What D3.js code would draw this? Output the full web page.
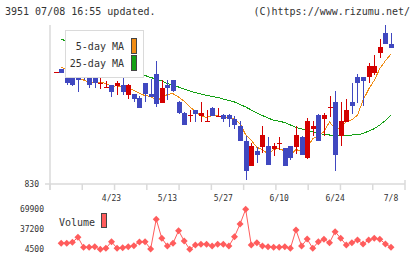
<!DOCTYPE html>
<html>
<head>
<meta charset="utf-8">
<script src="https://cdn.jsdelivr.net/npm/d3@7"></script>
<style>
  body { margin: 0; background: #fff; }
  text { font-family: "DejaVu Sans Mono", monospace; fill: #333; }
</style>
</head>
<body>
<div id="chart"></div>
<script>
// daily candles, oldest first (last day = 7/8)
const openP  = [942,945,942,938,938,940,938,937,930,926,929,928,929,919,920,916,931,920,940,911,929,934,912,901,898,904,898,893,906,898,899,899,895,888,873,848,863,867,868,865,870,866,868,867,877,856,885,899,895,906,912,878,892,912,937,937,937,941,961,981,970];
const highP  = [942,945,943,938,938,941,938,938,936,933,929,933,940,930,920,918,931,935,953,934,934,934,913,902,904,904,912,904,907,906,900,900,898,893,878,871,867,888,877,871,877,866,868,888,878,896,893,900,901,918,923,912,915,931,940,937,951,959,975,989,981];
const lowP   = [942,941,929,928,922,934,926,926,925,926,917,919,919,915,912,906,912,917,907,911,914,922,900,889,892,892,892,893,898,898,892,887,885,873,834,848,851,861,849,858,864,848,854,860,859,855,878,873,878,897,843,868,892,900,911,908,931,939,956,970,966];
const closeP = [942,941,931,929,934,937,929,931,931,927,922,931,922,929,915,906,920,917,910,926,926,923,901,889,899,900,901,893,898,898,895,895,889,873,843,868,859,879,849,868,871,848,856,879,859,893,888,873,899,907,859,893,904,908,931,933,948,948,967,970,966];

const ma5 = [null,947,944,939,935,934,931.5,931.5,932,930.6,927.7,928.2,926.5,926.2,923.8,920.7,918.4,917.5,913.6,915.9,919.7,920.3,916.9,912.7,907.3,902.3,898,896.6,898.4,898.3,897.2,896.1,895.3,890.3,879.2,873.8,866.6,864.5,859.7,864.7,865.3,863.1,858.5,864.5,862.7,867.1,875.1,878.4,882.4,892,885.2,886.2,892.4,894.2,898.9,913.8,924.8,933.6,945.5,953.3,959.9];
const ma25 = [null,974.7,973,970.5,968,965.3,963,960.5,957.8,955.4,953,950.3,948,945.4,943,940.7,938.5,936.5,935,933,930.5,928.5,927,925,923,921.3,920,918.7,917.5,916.5,915,913.5,912,909.5,907,904,901,898.5,896,893.7,892.7,891.5,889,886.5,885,883.5,882,880.7,879.7,879,879,879,879,879,879.3,880.5,883,885.3,889,893.5,899];

const volume = [null,14300,14300,15900,24100,7800,7800,8800,4500,6100,16900,6100,7100,8800,10400,16400,16900,5000,53600,22500,9900,14300,34900,18100,4500,11500,12700,12700,9900,12700,12700,9900,25100,45900,69900,11500,15300,9900,8800,7800,7800,8800,6100,36100,9900,21300,6100,16900,20900,15300,33300,22500,11500,15300,19700,13200,19700,22500,20900,13200,7800];

const dateIdx = [10, 20, 30, 40, 50, 60];
const dateLabels = ["4/23", "5/13", "5/27", "6/10", "6/24", "7/8"];
const priceTicks = [830];
const volTicks = [69900, 37200, 4500];

const upCol = "#d40000", downCol = "#4048c0";
const ma5Col = "#f08c14", ma25Col = "#14a014", volCol = "#ff5c5c";

const width = 420, height = 259;
const svg = d3.select("#chart").append("svg")
    .attr("width", width)
    .attr("height", height);

const x = d3.scaleLinear().domain([-1, 62.5]).range([50, 405]);
const y = d3.scaleLinear().domain([830, 989]).range([184, 25]);
const yv = d3.scaleLinear().domain([4500, 69900]).range([249.3, 209.3]);
const grid = d3.scaleLinear().domain([0, 11]).range([50, 405]);

// header
svg.append("text")
    .attr("x", 5).attr("y", 15)
    .attr("font-size", 10)
  .text("3951 07/08 16:55 updated.");
svg.append("text")
    .attr("x", 410).attr("y", 15)
    .attr("font-size", 10)
    .attr("text-anchor", "end")
  .text("(C)https://www.rizumu.net/");

// axes
const axis = svg.append("g")
    .attr("stroke", "#dadada")
    .attr("stroke-width", 1.5);
axis.append("line")
    .attr("x1", grid(0)).attr("x2", grid(0))
    .attr("y1", y(989)).attr("y2", y(830) + 6);
axis.append("line")
    .attr("x1", grid(0) - 5).attr("x2", grid(11))
    .attr("y1", y(830)).attr("y2", y(830));
axis.selectAll("line.tick")
  .data(d3.range(12))
  .join("line")
    .attr("class", "tick")
    .attr("x1", d => grid(d)).attr("x2", d => grid(d))
    .attr("y1", d => d == 11 ? y(830) - 4 : y(830))
    .attr("y2", y(830) + 6);

svg.selectAll("text.ptick")
  .data(priceTicks)
  .join("text")
    .attr("class", "ptick")
    .attr("x", 39).attr("y", d => y(d))
    .attr("dy", "0.35em")
    .attr("font-size", 8)
    .attr("text-anchor", "end")
  .text(d => d);

svg.selectAll("text.date")
  .data(dateIdx)
  .join("text")
    .attr("class", "date")
    .attr("x", d => x(d)).attr("y", 198)
    .attr("dy", "0.35em")
    .attr("font-size", 8)
    .attr("text-anchor", "middle")
  .text((d, i) => dateLabels[i]);

// moving averages
const maLine = d3.line()
    .defined(d => d != null)
    .x((d, i) => x(i))
    .y(d => y(d));

svg.append("path")
    .attr("d", maLine(ma25))
    .attr("fill", "none")
    .attr("stroke", ma25Col)
    .attr("stroke-width", 1)
    .attr("shape-rendering", "crispEdges");

svg.append("path")
    .attr("d", maLine(ma5))
    .attr("fill", "none")
    .attr("stroke", ma5Col)
    .attr("stroke-width", 1)
    .attr("shape-rendering", "crispEdges");

// candles
const candles = openP.map((o, i) => ({ i, o, h: highP[i], l: lowP[i], c: closeP[i] }));
const candle = svg.append("g")
  .selectAll("g")
  .data(candles)
  .join("g")
    .attr("fill", d => d.c >= d.o ? upCol : downCol)
    .attr("stroke", d => d.c >= d.o ? upCol : downCol)
    .attr("shape-rendering", "crispEdges");

candle.append("line")
    .attr("x1", d => Math.round(x(d.i)) + 0.5)
    .attr("x2", d => Math.round(x(d.i)) + 0.5)
    .attr("y1", d => y(d.h))
    .attr("y2", d => y(d.l))
    .attr("stroke-width", 1);

candle.append("rect")
    .attr("stroke", "none")
    .attr("x", d => Math.round(x(d.i)) - 2)
    .attr("width", 5)
    .attr("y", d => y(Math.max(d.o, d.c)))
    .attr("height", d => Math.max(1, Math.abs(y(d.o) - y(d.c))));

// legend
const legend = svg.append("g");
legend.append("rect")
    .attr("x", 65.5).attr("y", 30.5)
    .attr("width", 78).attr("height", 47)
    .attr("fill", "#fff")
    .attr("stroke", "#dadada");
[["5-day MA", ma5Col, 46], ["25-day MA", ma25Col, 63]].forEach(([name, col, cy]) => {
  legend.append("text")
      .attr("x", 124).attr("y", cy)
      .attr("dy", "0.35em")
      .attr("font-size", 10)
      .attr("text-anchor", "end")
    .text(name);
  legend.append("rect")
      .attr("x", 131.5).attr("y", cy - 7.5)
      .attr("width", 5).attr("height", 15)
      .attr("fill", col)
      .attr("stroke", "#444");
});

// volume panel
svg.selectAll("text.vtick")
  .data(volTicks)
  .join("text")
    .attr("class", "vtick")
    .attr("x", 44).attr("y", d => yv(d))
    .attr("dy", "0.35em")
    .attr("font-size", 8)
    .attr("text-anchor", "end")
  .text(d => d);

svg.append("text")
    .attr("x", 59).attr("y", 222)
    .attr("dy", "0.35em")
    .attr("font-size", 10)
  .text("Volume");
svg.append("rect")
    .attr("x", 101.5).attr("y", 213.5)
    .attr("width", 5).attr("height", 14)
    .attr("fill", volCol)
    .attr("stroke", "#444");

const volLine = d3.line()
    .defined(d => d != null)
    .x((d, i) => x(i))
    .y(d => yv(d));

svg.append("path")
    .attr("d", volLine(volume))
    .attr("fill", "none")
    .attr("stroke", volCol)
    .attr("stroke-width", 1);

svg.append("g")
  .selectAll("path")
  .data(volume.map((v, i) => ({ v, i })).filter(d => d.v != null))
  .join("path")
    .attr("d", "M0,-3.5L3.5,0L0,3.5L-3.5,0Z")
    .attr("transform", d => `translate(${x(d.i)},${yv(d.v)})`)
    .attr("fill", volCol);
</script>
</body>
</html>
